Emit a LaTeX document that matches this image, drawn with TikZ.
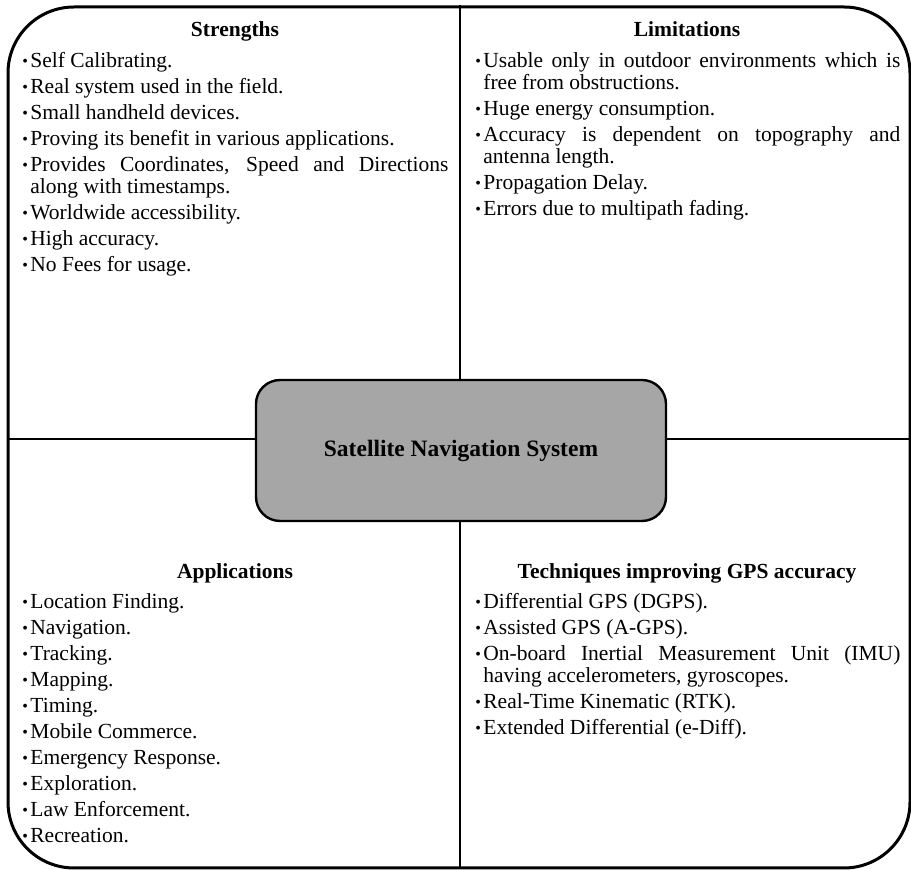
\documentclass[tikz,border=0pt]{standalone}
\usepackage{fontspec}
\setmainfont{Liberation Serif}
\usetikzlibrary{positioning}
\definecolor{boxgray}{HTML}{A6A6A6}
\newcommand{\bitem}[1]{\par\noindent\hangindent=4pt\hangafter=1\makebox[4pt][l]{\raisebox{0.18ex}{\scalebox{0.75}{\textbullet}}}#1}
\newcommand{\blist}[2]{\parbox[t]{#1}{\fontsize{10.75}{11}\selectfont\setlength{\parskip}{2pt}\hyphenpenalty=10000 #2}}

\begin{document}
\begin{tikzpicture}[x=0.5pt,y=-0.5pt]
            \tikzset{heading/.style={anchor=base, inner sep=0pt, font=\fontsize{10.75}{11}\selectfont\bfseries},
                     itemlist/.style={anchor=base west, inner sep=0pt},
                     divider/.style={line width=1.2pt}}
            \useasboundingbox (0,0) rectangle (911,870);

            % Rahmen en midden
            \node[draw, line width=1.5pt, rounded corners=33pt, minimum width=451pt, minimum height=430.5pt, inner sep=0pt] (frame) at (459,437.5) {};
            \node[draw, line width=1.2pt, fill=boxgray, rounded corners=12pt, minimum width=205pt, minimum height=70.5pt,
                  font=\fontsize{11.75}{13}\selectfont\bfseries] (nav) at (461,450.5) {Satellite Navigation System};
            \coordinate (mid) at (460,439);
            \draw[divider] (frame.north -| mid) -- (nav.north -| mid);
            \draw[divider] (nav.south -| mid) -- (frame.south -| mid);
            \draw[divider] (frame.west |- mid) -- (nav.west |- mid);
            \draw[divider] (nav.east |- mid) -- (frame.east |- mid);

            % Strengths (linksboven)
            \node[heading] (strT) at (235,37) {Strengths};
            \node[itemlist] (strL) at (22,68) {\blist{213pt}{%
                \bitem{Self Calibrating.}
                \bitem{Real system used in the field.}
                \bitem{Small handheld devices.}
                \bitem{Proving its benefit in various applications.}
                \bitem{Provides Coordinates, Speed and Directions\linebreak along with timestamps.}
                \bitem{Worldwide accessibility.}
                \bitem{High accuracy.}
                \bitem{No Fees for usage.}}};

            % Limitations (rechtsboven)
            \node[heading] (limT) at (687,37) {Limitations};
            \node[itemlist] (limL) at (475,68) {\blist{212.5pt}{%
                \bitem{Usable only in outdoor environments which is\linebreak free from obstructions.}
                \bitem{Huge energy consumption.}
                \bitem{Accuracy is dependent on topography and\linebreak antenna length.}
                \bitem{Propagation Delay.}
                \bitem{Errors due to multipath fading.}}};

            % Applications (linksonder)
            \node[heading] (appT) at (235,579) {Applications};
            \node[itemlist] (appL) at (22,609) {\blist{213pt}{%
                \bitem{Location Finding.}
                \bitem{Navigation.}
                \bitem{Tracking.}
                \bitem{Mapping.}
                \bitem{Timing.}
                \bitem{Mobile Commerce.}
                \bitem{Emergency Response.}
                \bitem{Exploration.}
                \bitem{Law Enforcement.}
                \bitem{Recreation.}}};

            % Techniques (rechtsonder)
            \node[heading] (tecT) at (687,579) {Techniques improving GPS accuracy};
            \node[itemlist] (tecL) at (475,609) {\blist{212.5pt}{%
                \bitem{Differential GPS (DGPS).}
                \bitem{Assisted GPS (A-GPS).}
                \bitem{On-board Inertial Measurement Unit (IMU)\linebreak having accelerometers, gyroscopes.}
                \bitem{Real-Time Kinematic (RTK).}
                \bitem{Extended Differential (e-Diff).}}};
\end{tikzpicture}
\end{document}
